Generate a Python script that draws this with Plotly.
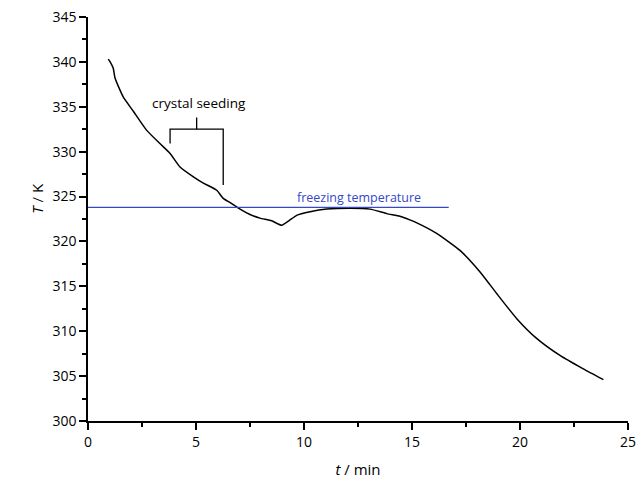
import plotly.graph_objects as go

# Temperature curve
t_min = [0.94, 1.05, 1.17, 1.25, 1.63, 2.1, 2.71, 3.33, 3.8, 4.26, 4.88, 5.34, 5.96, 6.26, 6.6,
         7.04, 7.5, 7.96, 8.5, 8.97, 9.3, 9.66, 10.28, 11.05, 12.13, 13.06, 13.83, 14.44, 14.9,
         15.2, 16.14, 17.22, 18.15, 18.92, 19.85, 20.77, 21.85, 22.93, 23.86]
T_K = [340.3, 339.9, 339.3, 338.2, 336.1, 334.5, 332.4, 330.9, 329.8, 328.3, 327.2, 326.5, 325.7,
       324.8, 324.3, 323.6, 323.0, 322.6, 322.3, 321.8, 322.3, 322.9, 323.3, 323.6, 323.7, 323.6,
       323.1, 322.8, 322.4, 322.1, 320.9, 319.0, 316.6, 314.2, 311.4, 309.2, 307.3, 305.8, 304.6]

# Freezing temperature line
freeze_T = 323.8
freeze_t = [0, 16.7]

# Crystal seeding bracket
seed_left = [3.8, 330.9, 332.5]
seed_right = [6.26, 326.3, 332.5]
seed_mid = [5.03, 332.5, 333.8]
seed_label = "crystal seeding"
freeze_label = "freezing temperature"

blue = "rgb(52,72,200)"
font = "Open Sans, Liberation Sans, sans-serif"

fig = go.Figure()
fig.add_trace(go.Scatter(x=t_min, y=T_K, mode="lines",
                         line=dict(color="black", width=1.5, shape="spline", smoothing=0.5),
                         showlegend=False, hoverinfo="skip"))
fig.add_trace(go.Scatter(x=freeze_t, y=[freeze_T, freeze_T], mode="lines",
                         line=dict(color=blue, width=1.3), showlegend=False, hoverinfo="skip"))
# bracket
fig.add_trace(go.Scatter(
    x=[seed_left[0], seed_left[0], seed_right[0], seed_right[0], None, seed_mid[0], seed_mid[0]],
    y=[seed_left[1], seed_left[2], seed_right[2], seed_right[1], None, seed_mid[1], seed_mid[2]],
    mode="lines", line=dict(color="black", width=1.3), showlegend=False, hoverinfo="skip"))

fig.add_annotation(x=5.14, y=335.4, text=seed_label, showarrow=False,
                   font=dict(family=font, size=13.5, color="black"))
fig.add_annotation(x=12.55, y=324.9, text=freeze_label, showarrow=False,
                   font=dict(family=font, size=12.5, color=blue))
# y-axis title
fig.add_annotation(xref="paper", yref="paper", x=-0.117, y=0.552, text="<i>T</i> / K",
                   textangle=-90, showarrow=False, font=dict(family=font, size=15, color="black"))

fig.update_layout(
    width=640, height=479,
    margin=dict(l=88, r=12, t=17, b=58, autoexpand=False),
    plot_bgcolor="white", paper_bgcolor="white",
    font=dict(family=font, size=14, color="black"),
    xaxis=dict(range=[0, 25], tick0=0, dtick=5, showgrid=False, zeroline=False,
               automargin=False,
               showline=True, linecolor="black", linewidth=1.5,
               ticks="outside", ticklen=7, tickwidth=1.5, tickcolor="black",
               minor=dict(dtick=2.5, ticks="outside", ticklen=4, tickwidth=1.5, tickcolor="black"),
               title=dict(text="<i>t</i> / min", standoff=20, font=dict(size=15))),
    yaxis=dict(range=[300, 345], tick0=300, dtick=5, showgrid=False, zeroline=False,
               automargin=False,
               showline=True, linecolor="black", linewidth=1.5,
               ticks="outside", ticklen=7, tickwidth=1.5, tickcolor="black",
               minor=dict(dtick=2.5, ticks="outside", ticklen=4, tickwidth=1.5, tickcolor="black")),
)

fig.write_html("out.html", config={"displayModeBar": False},
               post_script="document.body.style.margin='0';document.body.style.overflow='hidden';")
